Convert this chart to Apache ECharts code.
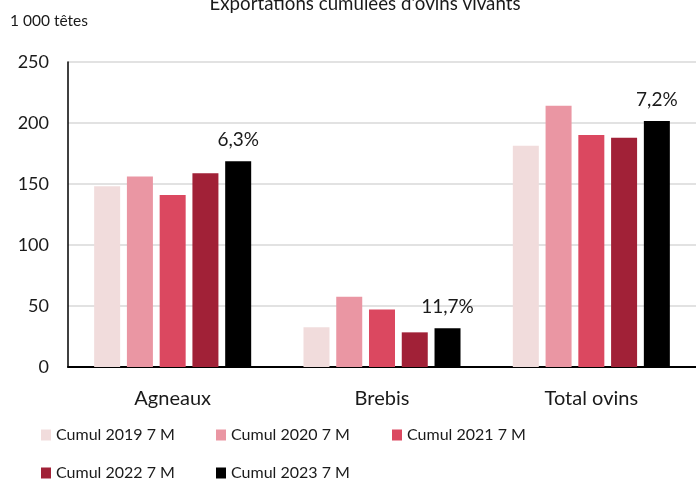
<!DOCTYPE html>
<html>
<head>
<meta charset="utf-8">
<script src="https://cdn.jsdelivr.net/npm/echarts@6/dist/echarts.min.js"></script>
<style>
  html, body { margin: 0; padding: 0; background: #fff; }
  #chart { width: 696px; height: 480px; }
</style>
</head>
<body>
<div id="chart"></div>
<script>
  // données (1 000 têtes)
  var categories = ['Agneaux', 'Brebis', 'Total ovins'];
  var seriesNames = ['Cumul 2019 7 M', 'Cumul 2020 7 M', 'Cumul 2021 7 M', 'Cumul 2022 7 M', 'Cumul 2023 7 M'];
  var cumul2019 = [148.2, 32.5, 181.3];
  var cumul2020 = [156.1, 57.6, 214.2];
  var cumul2021 = [141.0, 47.2, 190.2];
  var cumul2022 = [158.8, 28.4, 188.0];
  var cumul2023 = [168.7, 31.7, 201.6];
  var evolution = ['6,3%', '11,7%', '7,2%'];
  var colors = ['#f1dcdc', '#ea96a3', '#db4860', '#a12137', '#000000'];

  var font = 'Lato';
  var chart = echarts.init(document.getElementById('chart'));

  var values = [cumul2019, cumul2020, cumul2021, cumul2022, cumul2023];
  var series = values.map(function (v, i) {
    var s = {
      name: seriesNames[i],
      type: 'bar',
      data: v,
      barWidth: 26,
      barGap: '26%',
      itemStyle: { color: colors[i] }
    };
    // étiquette d'évolution sur la dernière année
    if (i === values.length - 1) {
      s.label = {
        show: true,
        position: 'top',
        distance: 12,
        fontFamily: font,
        fontSize: 19,
        color: '#1a1a1a',
        formatter: function (p) { return evolution[p.dataIndex]; }
      };
    }
    return s;
  });

  // une légende par entrée, disposées sur deux lignes
  var legendPos = [[41, 427], [216, 427], [392, 427], [41, 465], [216, 465]];
  var legends = seriesNames.map(function (n, i) {
    return {
      data: [n],
      left: legendPos[i][0],
      top: legendPos[i][1],
      padding: 0,
      itemWidth: 10,
      itemHeight: 11,
      icon: 'rect',
      selectedMode: false,
      textStyle: { fontFamily: font, fontSize: 16, color: '#1a1a1a' }
    };
  });

  var option = {
    animation: false,
    color: colors,
    title: {
      text: "Exportations cumulées d'ovins vivants",
      left: 360,
      textAlign: 'center',
      top: -11,
      textStyle: { fontFamily: font, fontSize: 18.7, fontWeight: 'normal', color: '#1a1a1a' }
    },
    grid: { left: 68, right: 0, top: 62, bottom: 113, containLabel: false },
    legend: legends,
    xAxis: {
      type: 'category',
      data: categories,
      axisLine: { lineStyle: { color: '#000', width: 2 } },
      axisTick: { show: false },
      axisLabel: { fontFamily: font, fontSize: 20, color: '#1a1a1a', margin: 22 }
    },
    yAxis: {
      type: 'value',
      name: '1 000 têtes',
      nameLocation: 'end',
      nameGap: 33,
      nameTextStyle: { fontFamily: font, fontSize: 15.5, color: '#1a1a1a', align: 'left', padding: [0, 0, 0, -58] },
      min: 0,
      max: 250,
      interval: 50,
      axisLine: { show: true, lineStyle: { color: '#000', width: 1.5 } },
      axisTick: { show: false },
      axisLabel: { fontFamily: font, fontSize: 18, color: '#1a1a1a', margin: 19 },
      splitLine: { lineStyle: { color: '#d9d9d9', width: 1.5 } }
    },
    series: series
  };

  option && chart.setOption(option);
</script>
</body>
</html>
